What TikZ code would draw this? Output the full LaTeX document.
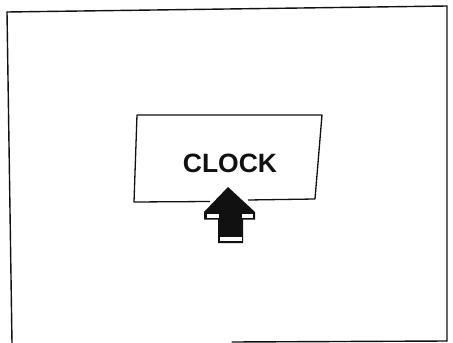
\documentclass[tikz,border=0pt]{standalone}
\usepackage{fontspec}
\setmainfont{Liberation Sans}
\usetikzlibrary{positioning}
\definecolor{ink}{HTML}{111111}
\tikzset{
  every picture/.style={line width=1.3pt,draw=ink},
  frm/.style={draw=ink,line width=1.4pt,line cap=round},
  lbl/.style={font=\fontsize{26.5}{30}\selectfont\bfseries,text=ink,inner sep=0pt},
  hl/.style={fill=white,draw=none},
}
\begin{document}
\begin{tikzpicture}[x=1pt,y=-1pt]
  \useasboundingbox (0,0) rectangle (453,343);
  % outer frame
  \draw[frm] (7,12) -- (447,6) -- (447,341);
  \draw[frm] (7,12) -- (12,343);
  \draw[frm] (232,342) -- (447,341);
  % panel
  \coordinate (tl) at (137,115); \coordinate (tr) at (322,115);
  \coordinate (br) at (315,199); \coordinate (bl) at (134,202);
  \draw[line join=round] (210,201.5) -- (bl) -- (tl) -- (tr) -- (br) -- (248,200);
  \node[lbl] (clock) at (230,163) {CLOCK};
  % arrow
  \fill[ink] (228,187) -- (255,212) -- (255,219.5) -- (243,219.5) -- (243,243) -- (218,243)
    -- (218,219.5) -- (204,219.5) -- (204,212) -- cycle;
  \fill[hl] (207,214) rectangle (219,218);
  \fill[hl] (242,214) rectangle (253,218);
  \fill[hl] (220,237) rectangle (242,241);
\end{tikzpicture}
\end{document}
